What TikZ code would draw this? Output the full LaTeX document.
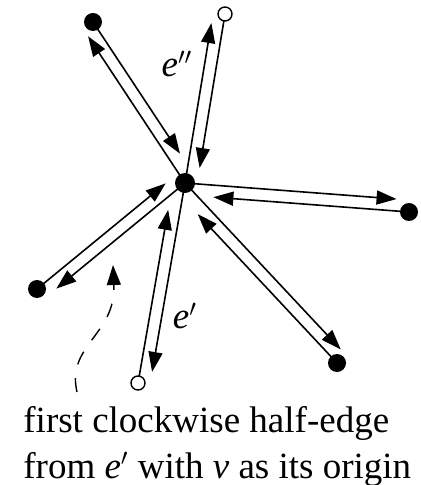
\documentclass[tikz,border=0pt]{standalone}
\usepackage{fontspec}
\setmainfont{Liberation Serif}
\usetikzlibrary{calc,arrows.meta,backgrounds}
\begin{document}
\begin{tikzpicture}[x=0.5pt,y=-0.5pt,
  vtx/.style={circle,fill=black,inner sep=0pt,minimum size=9pt},
  ovtx/.style={circle,draw=black,fill=white,line width=0.7pt,inner sep=0pt,minimum size=7pt},
  half/.style={line width=0.8pt,-{Triangle[length=10pt,width=7pt]}},
  dashline/.style={line width=0.7pt,dash pattern=on 7pt off 7pt,-{Triangle[length=10pt,width=7pt]}},
  lbl/.style={font=\fontsize{18.5}{23}\selectfont,inner sep=0pt},
  txt/.style={font=\fontsize{18.5}{23}\selectfont,inner sep=0pt,anchor=base west}]
\useasboundingbox (0,0) rectangle (421,485);
\node[vtx,minimum size=10pt] (v) at (185,183) {};
\node[vtx] (tl) at (93,22) {};
\node[ovtx] (t) at (225,14) {};
\node[vtx] (r) at (409,212) {};
\node[vtx] (bl) at (37,289) {};
\node[ovtx] (b) at (138,383) {};
\node[vtx] (br) at (337,363) {};
\begin{scope}[on background layer]
 \draw[half,shorten >=5pt] (v.center) -- ($(tl.center)!6pt!-90:(v.center)$);
 \draw[half,shorten >=14pt] (tl.center) -- ($(v.center)!6pt!-90:(tl.center)$);
 \draw[half,shorten >=6pt] (v.center) -- ($(t.center)!6pt!-90:(v.center)$);
 \draw[half,shorten >=9pt] (t.center) -- ($(v.center)!6pt!-90:(t.center)$);
 \draw[half,shorten >=7pt] (v.center) -- ($(r.center)!6pt!-90:(v.center)$);
 \draw[half,shorten >=15pt] (r.center) -- ($(v.center)!6pt!-90:(r.center)$);
 \draw[half,shorten >=4pt] (v.center) -- ($(br.center)!6pt!-90:(v.center)$);
 \draw[half,shorten >=16pt] (br.center) -- ($(v.center)!6pt!-90:(br.center)$);
 \draw[half,shorten >=7pt] (v.center) -- ($(b.center)!6pt!-90:(v.center)$);
 \draw[half,shorten >=15pt] (b.center) -- ($(v.center)!6pt!-90:(b.center)$);
 \draw[half,shorten >=8pt] (v.center) -- ($(bl.center)!6pt!-90:(v.center)$);
 \draw[half,shorten >=8pt] (bl.center) -- ($(v.center)!6pt!-90:(bl.center)$);
\end{scope}
\node[lbl] (e2) at (177,64) {\textit{e}$''$};
\node[lbl] (e1) at (185,316) {\textit{e}$'$};
\coordinate (ds) at (77,392);
\coordinate (de) at (113,265);
\draw[dashline] (ds) .. controls (66,345) and (116,335) .. (de);
\node[txt] (l1) at (23,432) {first clockwise half-edge};
\node[txt] (l2) at (23,478) {from \textit{e}$'$ with \textit{v} as its origin};
\end{tikzpicture}
\end{document}
